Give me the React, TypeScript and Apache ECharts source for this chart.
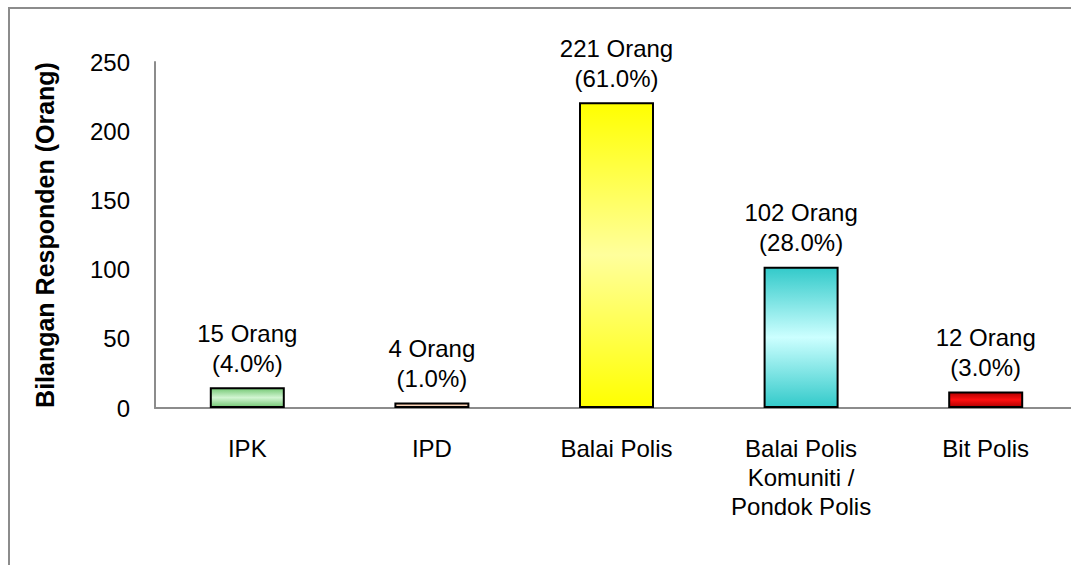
import React, { useEffect, useRef } from "react";
import * as echarts from "echarts";

const categories = ["IPK", "IPD", "Balai Polis", "Balai Polis\nKomuniti /\nPondok Polis", "Bit Polis"];
const respondents = [15, 4, 221, 102, 12];
const percents = ["4.0", "1.0", "61.0", "28.0", "3.0"];
// [edge colour, centre colour] for each bar's vertical gradient
const barShades = [
  ["#74c874", "#d2f5d2"],
  ["#f2a97a", "#fcdcc4"],
  ["#ffff00", "#ffff9c"],
  ["#33caca", "#ccffff"],
  ["#b00000", "#ff1010"],
];
const yTicks = { min: 0, max: 250, interval: 50 };

export default function App() {
  const ref = useRef<HTMLDivElement>(null);

  useEffect(() => {
    if (!ref.current) return;
    const chart = echarts.init(ref.current, null, { renderer: "svg" });
    const font = "'Liberation Sans', Arial, sans-serif";
    chart.setOption({
      animation: false,
      backgroundColor: "#ffffff",
      grid: { left: 155, top: 62, width: 923, height: 346, containLabel: false },
      xAxis: {
        type: "category",
        data: categories,
        axisLine: { show: true, lineStyle: { color: "#8c8c8c", width: 2 } },
        axisTick: { show: false },
        axisLabel: {
          color: "#000",
          fontFamily: font,
          fontSize: 24,
          lineHeight: 29,
          margin: 26,
          interval: 0,
        },
      },
      yAxis: {
        type: "value",
        min: yTicks.min,
        max: yTicks.max,
        interval: yTicks.interval,
        name: "Bilangan Responden (Orang)",
        nameLocation: "middle",
        nameGap: 98,
        nameRotate: 90,
        nameTextStyle: { color: "#000", fontFamily: font, fontSize: 25, fontWeight: "bold" },
        splitLine: { show: false },
        axisLine: { show: true, lineStyle: { color: "#8c8c8c", width: 2 } },
        axisTick: { show: false },
        axisLabel: { color: "#000", fontFamily: font, fontSize: 24, margin: 25 },
      },
      series: [
        {
          type: "bar",
          barWidth: 75,
          data: respondents.map((v, i) => ({
            value: v,
            itemStyle: {
              color: new echarts.graphic.LinearGradient(0, 0, 0, 1, [
                { offset: 0, color: barShades[i][0] },
                { offset: 0.5, color: barShades[i][1] },
                { offset: 1, color: barShades[i][0] },
              ]),
              borderColor: "#000",
              borderWidth: 2,
            },
          })),
          label: {
            show: true,
            position: "top",
            distance: 9,
            color: "#000",
            fontFamily: font,
            fontSize: 24,
            lineHeight: 30,
            formatter: (p: any) => `${p.value} Orang\n(${percents[p.dataIndex]}%)`,
          },
        },
      ],
    });
    return () => chart.dispose();
  }, []);

  return (
    <div
      style={{
        position: "absolute",
        left: 0,
        top: 0,
        width: 1071,
        height: 565,
        overflow: "hidden",
        background: "#fff",
      }}
    >
      <div ref={ref} style={{ position: "absolute", left: 0, top: 0, width: 1100, height: 565 }} />
      <div
        style={{
          position: "absolute",
          left: 8,
          top: 7,
          width: 1071,
          height: 565,
          borderLeft: "2px solid #8c8c8c",
          borderTop: "2px solid #8c8c8c",
          pointerEvents: "none",
        }}
      />
    </div>
  );
}
